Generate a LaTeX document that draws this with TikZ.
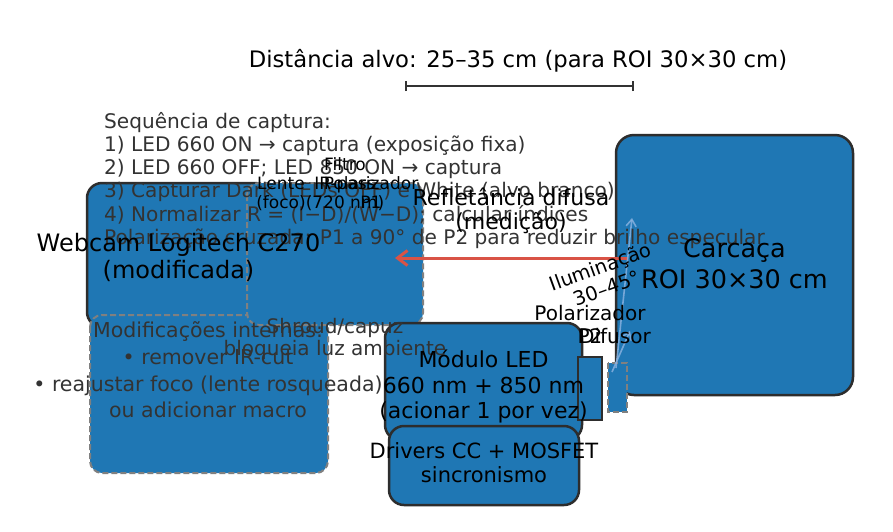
\documentclass[tikz,border=0pt]{standalone}
\usepackage{fontspec}
\setmainfont{DejaVu Sans}
\usetikzlibrary{arrows.meta}
\definecolor{mblue}{RGB}{31,119,180}
\definecolor{edgec}{RGB}{45,45,45}
\definecolor{dgray}{RGB}{128,128,128}
\definecolor{tgray}{RGB}{51,51,51}
\definecolor{mred}{RGB}{217,83,70}
\definecolor{lblue}{RGB}{140,180,225}
\begin{document}
\begin{tikzpicture}[x=1pt,y=-1pt,
  solidbox/.style={draw=edgec, line width=2.5pt, fill=mblue, rounded corners=15pt},
  dashbox/.style={draw=dgray, line width=2pt, dash pattern=on 6pt off 3pt, fill=mblue, rounded corners=12pt},
  txt/.style={inner sep=0pt, anchor=base, text=black},
  gtxt/.style={inner sep=0pt, anchor=base, text=tgray},
  ltxt/.style={inner sep=0pt, anchor=base west, text=tgray, font=\fontsize{20.1}{24}\selectfont},
  fA/.style={font=\fontsize{22.7}{27}\selectfont},
  fB/.style={font=\fontsize{24}{29}\selectfont},
  fC/.style={font=\fontsize{25.5}{30}\selectfont},
  fD/.style={font=\fontsize{22}{26}\selectfont},
  fE/.style={font=\fontsize{20.5}{24}\selectfont},
  fF/.style={font=\fontsize{17}{20}\selectfont},
  fG/.style={font=\fontsize{19.5}{23}\selectfont},
  fH/.style={font=\fontsize{21}{25}\selectfont},
  dimline/.style={draw=tgray, line width=2pt},
  redarrow/.style={draw=mred, line width=3pt, -{Straight Barb[length=10pt,width=15pt]}},
  illum/.style={draw=lblue, line width=1.6pt, opacity=0.8, -{Straight Barb[length=7pt,width=10pt]}}
]
\useasboundingbox (0,0) rectangle (893,531);
\fill[white] (0,0) rectangle (893,531);

% boxes
\draw[solidbox] (87,183) rectangle (270,327);
\draw[dashbox] (90,315) rectangle (328,473);
\draw[dashbox] (247,183) rectangle (423,325);
\draw[solidbox] (385,323) rectangle (582,440);
\draw[solidbox] (389,426) rectangle (579,505);
\draw[draw=edgec, line width=2pt, fill=mblue] (578,357) rectangle (602,420);
\draw[solidbox, rounded corners=18pt] (616,135) rectangle (853,395);
\draw[dashbox, rounded corners=0pt] (608,363) rectangle (627,412);

% dimension line
\coordinate (dA) at (406,86);
\coordinate (dB) at (633,86);
\draw[dimline] (dA) -- (dB);
\draw[dimline] ([yshift=-5pt]dA) -- ([yshift=5pt]dA);
\draw[dimline] ([yshift=-5pt]dB) -- ([yshift=5pt]dB);

% arrows
\coordinate (rS) at (628,258);
\coordinate (rE) at (395,258);
\draw[redarrow] (rS) -- (rE);
\coordinate (iS1) at (616,368);
\coordinate (iE1) at (632,218);
\coordinate (iS2) at (612,372);
\coordinate (iE2) at (630,331);
\draw[illum] (iS1) -- (iE1);
\draw[illum] (iS2) -- (iE2);

% title
\node[txt, fA] (title) at (518,67) {Distância alvo: 25–35 cm (para ROI 30×30 cm)};

% sequence text
\node[ltxt] (s0) at (104,128) {Sequência de captura:};
\node[ltxt] (s1) at (104,151.3) {1) LED 660 ON → captura (exposição fixa)};
\node[ltxt] (s2) at (104,174.6) {2) LED 660 OFF; LED 850 ON → captura};
\node[ltxt] (s3) at (104,197.9) {3) Capturar Dark (LEDs OFF) e White (alvo branco)};
\node[ltxt] (s4) at (104,221.2) {4) Normalizar R = (I−D)/(W−D); calcular índices};
\node[ltxt] (s5) at (104,244.5) {Polarização cruzada: P1 a 90° de P2 para reduzir brilho especular};

% camera internal labels
\node[txt, fF] (fil1) at (345,170) {Filtro};
\node[txt, fF] (fil2) at (345,189) {IR-pass};
\node[txt, fF] (fil3) at (345,208) {(720 nm)};
\node[txt, fF] (len1) at (281,189) {Lente};
\node[txt, fF] (len2) at (281,208) {(foco)};
\node[txt, fF] (pol1) at (371,189) {Polarizador};
\node[txt, fF] (pol2) at (371,208) {P1};

% webcam label
\node[txt, fB] (cam1) at (178.5,251) {Webcam Logitech C270};
\node[txt, fB] (cam2) at (178.5,278) {(modificada)};

% reflectance label
\node[txt, fD] (ref1) at (511,205) {Refletância difusa};
\node[txt, fD] (ref2) at (511,229) {(medição)};

% carcaca
\node[txt, fC] (car1) at (734.5,257) {Carcaça};
\node[txt, fC] (car2) at (734.5,288) {ROI 30×30 cm};

% illumination
\node[inner sep=0pt, fG, rotate=20] (il1) at (601,268) {Iluminação};
\node[inner sep=0pt, fG, rotate=20] (il2) at (607,288) {30–45°};

% polarizer / diffuser
\node[txt, font=\fontsize{20}{24}\selectfont] (p2a) at (590,320) {Polarizador};
\node[txt, font=\fontsize{20}{24}\selectfont] (p2b) at (590,343) {P2};
\node[txt, font=\fontsize{20}{24}\selectfont] (dif) at (615,343) {Difusor};

% modifications
\node[gtxt, fE] (m1) at (208,337) {Modificações internas:};
\node[gtxt, fE] (m2) at (208,364) {• remover IR-cut};
\node[gtxt, fE] (m3) at (208,391) {• reajustar foco (lente rosqueada)};
\node[gtxt, fE] (m4) at (208,417) {ou adicionar macro};

% shroud
\node[gtxt, font=\fontsize{20}{24}\selectfont] (sh1) at (335,333) {Shroud/capuz};
\node[gtxt, font=\fontsize{20}{24}\selectfont] (sh2) at (335,355) {bloqueia luz ambiente};

% LED module
\node[txt, fD] (led1) at (483.5,367) {Módulo LED};
\node[txt, fD] (led2) at (483.5,393) {660 nm + 850 nm};
\node[txt, fD] (led3) at (483.5,418) {(acionar 1 por vez)};

% drivers
\node[txt, fH] (drv1) at (484,458) {Drivers CC + MOSFET};
\node[txt, fH] (drv2) at (484,482) {sincronismo};
\end{tikzpicture}
\end{document}
